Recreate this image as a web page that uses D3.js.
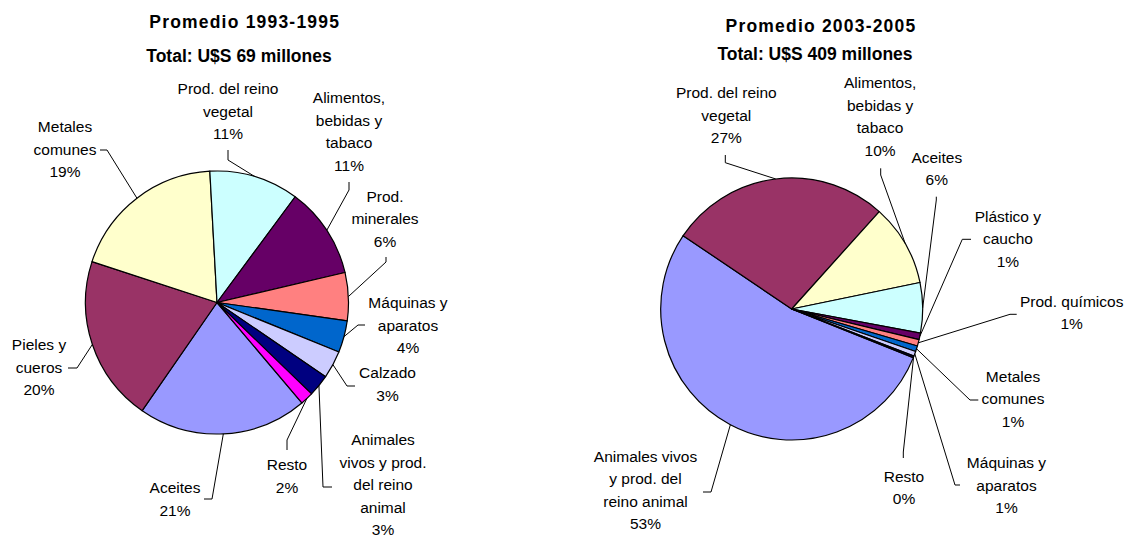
<!DOCTYPE html>
<html>
<head>
<meta charset="utf-8">
<script src="https://cdn.jsdelivr.net/npm/d3@7"></script>
<style>
  body { margin: 0; background: #fff; }
  text { font-family: "Liberation Sans", Arial, sans-serif; fill: #000; }
</style>
</head>
<body>
<div id="chart"></div>
<script>
// Excel default fill order
const palette = ["#9999FF", "#993366", "#FFFFCC", "#CCFFFF", "#660066",
                 "#FF8080", "#0066CC", "#CCCCFF", "#000080", "#FF00FF"];

// 1993-1995
const leftTitle = "Promedio 1993-1995";
const leftTotal = "Total: U$S 69 millones";
const leftCategories = ["Aceites", "Pieles y cueros", "Metales comunes", "Prod. del reino vegetal",
  "Alimentos, bebidas y tabaco", "Prod. minerales", "Máquinas y aparatos", "Calzado",
  "Animales vivos y prod. del reino animal", "Resto"];
const leftValues = [20.8, 20.4, 19.1, 11.0, 11.2, 5.9, 3.9, 3.4, 2.7, 1.6];

// 2003-2005
const rightTitle = "Promedio 2003-2005";
const rightTotal = "Total: U$S 409 millones";
const rightCategories = ["Animales vivos y prod. del reino animal", "Prod. del reino vegetal",
  "Alimentos, bebidas y tabaco", "Aceites", "Plástico y caucho", "Prod. químicos",
  "Metales comunes", "Máquinas y aparatos", "Resto"];
const rightValues = [53.4, 27.2, 10.1, 6.2, 0.8, 0.8, 0.7, 0.6, 0.2];

// layout: label wrapping, label anchor, leader start + elbow (end goes to slice edge)
const leftLayout = {
  cx: 217, cy: 302.5, r: 131.5, start: 139.8,
  title: [244.7, 28.3], total: [239, 61.7],
  labels: [
    { lines: ["Aceites"], x: 175, y: 493.3, leader: [[204, 499], [212, 499]] },
    { lines: ["Pieles y", "cueros"], x: 39, y: 350, leader: [[68, 368], [77, 368]] },
    { lines: ["Metales", "comunes"], x: 65, y: 132, leader: [[100, 150], [107, 150]] },
    { lines: ["Prod. del reino", "vegetal"], x: 228, y: 94.3, leader: [[228, 150], [228, 160]] },
    { lines: ["Alimentos,", "bebidas y", "tabaco"], x: 349, y: 103.3, leader: [[349, 182], [349, 190]] },
    { lines: ["Prod.", "minerales"], x: 385, y: 201.7, leader: [[386, 257], [386, 262]] },
    { lines: ["Máquinas y", "aparatos"], x: 408, y: 308.3, leader: [[365, 325], [358, 325]] },
    { lines: ["Calzado"], x: 387.5, y: 378.3, leader: [[355, 386], [347, 386]] },
    { lines: ["Animales", "vivos y prod.", "del reino", "animal"], x: 383, y: 445, leader: [[332, 487], [323, 487]] },
    { lines: ["Resto"], x: 287, y: 470, leader: [[287, 450], [287, 440]] }
  ]
};

const rightLayout = {
  cx: 791.7, cy: 309, r: 131, start: 111.8,
  title: [821, 31.7], total: [815, 60],
  labels: [
    { lines: ["Animales vivos", "y prod. del", "reino animal"], x: 645.5, y: 461.7, leader: [[703, 492], [711, 492]] },
    { lines: ["Prod. del reino", "vegetal"], x: 726.3, y: 98.3, leader: [[725.3, 155], [725.3, 162.7]] },
    { lines: ["Alimentos,", "bebidas y", "tabaco"], x: 880.1, y: 88.3, leader: [[880.7, 168.3], [880.7, 175]] },
    { lines: ["Aceites"], x: 936.8, y: 162.7, leader: [[936.3, 196.7], [936.3, 200]] },
    { lines: ["Plástico y", "caucho"], x: 1007.9, y: 221.7, leader: [[971, 239.3], [962.3, 239.3]] },
    { lines: ["Prod. químicos"], x: 1071.7, y: 306.7, leader: [[1016.7, 314.3], [1010, 314.3]] },
    { lines: ["Metales", "comunes"], x: 1013, y: 381.7, leader: [[978.3, 400], [970, 400]] },
    { lines: ["Máquinas y", "aparatos"], x: 1006.5, y: 468.3, leader: [[960, 485], [955, 485]] },
    { lines: ["Resto"], x: 904, y: 481.7, leader: [[903.3, 458], [903.3, 452]] }
  ]
};

const width = 1125, height = 535;
const lineH = 22.5;

const svg = d3.select("#chart")
  .append("svg")
  .attr("width", width)
  .attr("height", height);

svg.append("rect").attr("width", width).attr("height", height).attr("fill", "#fff");

function drawPie(categories, values, title, total, layout) {
  const rad = layout.start * Math.PI / 180;
  const pie = d3.pie().sort(null).value(d => d.value)
    .startAngle(rad).endAngle(rad + 2 * Math.PI);
  const data = pie(categories.map((c, i) => ({ name: c, value: values[i] })));

  const arc = d3.arc().innerRadius(0).outerRadius(layout.r);
  const edge = d3.arc().innerRadius(layout.r).outerRadius(layout.r);

  const g = svg.append("g")
    .attr("transform", "translate(" + layout.cx + "," + layout.cy + ")");

  // slices
  g.selectAll("path.slice")
    .data(data)
    .enter()
    .append("path")
    .attr("class", "slice")
    .attr("d", arc)
    .attr("fill", (d, i) => palette[i])
    .attr("stroke", "#000")
    .attr("stroke-width", 1.2)
    .attr("stroke-linejoin", "round");

  // leader lines
  svg.selectAll(null)
    .data(data)
    .enter()
    .append("polyline")
    .attr("points", (d, i) => {
      const p = edge.centroid(d);
      const l = layout.labels[i].leader;
      return [l[0], l[1], [p[0] + layout.cx, p[1] + layout.cy]].map(q => q.join(",")).join(" ");
    })
    .attr("fill", "none")
    .attr("stroke", "#000")
    .attr("stroke-width", 1);

  // labels
  const labels = svg.selectAll(null)
    .data(data)
    .enter()
    .append("text")
    .attr("text-anchor", "middle")
    .style("font-size", "15.5px");

  labels.each(function (d, i) {
    const lab = layout.labels[i];
    const lines = lab.lines.concat([Math.round(d.data.value) + "%"]);
    d3.select(this).selectAll("tspan")
      .data(lines)
      .enter()
      .append("tspan")
      .attr("x", lab.x)
      .attr("y", (t, j) => lab.y + j * lineH)
      .text(t => t);
  });

  // titles
  svg.append("text")
    .attr("x", layout.title[0])
    .attr("y", layout.title[1])
    .attr("text-anchor", "middle")
    .style("font-size", "17.5px")
    .style("font-weight", "bold")
    .style("letter-spacing", "1.2px")
    .text(title);

  svg.append("text")
    .attr("x", layout.total[0])
    .attr("y", layout.total[1])
    .attr("text-anchor", "middle")
    .style("font-size", "17.5px")
    .style("font-weight", "bold")
    .text(total);
}

drawPie(leftCategories, leftValues, leftTitle, leftTotal, leftLayout);
drawPie(rightCategories, rightValues, rightTitle, rightTotal, rightLayout);
</script>
</body>
</html>
